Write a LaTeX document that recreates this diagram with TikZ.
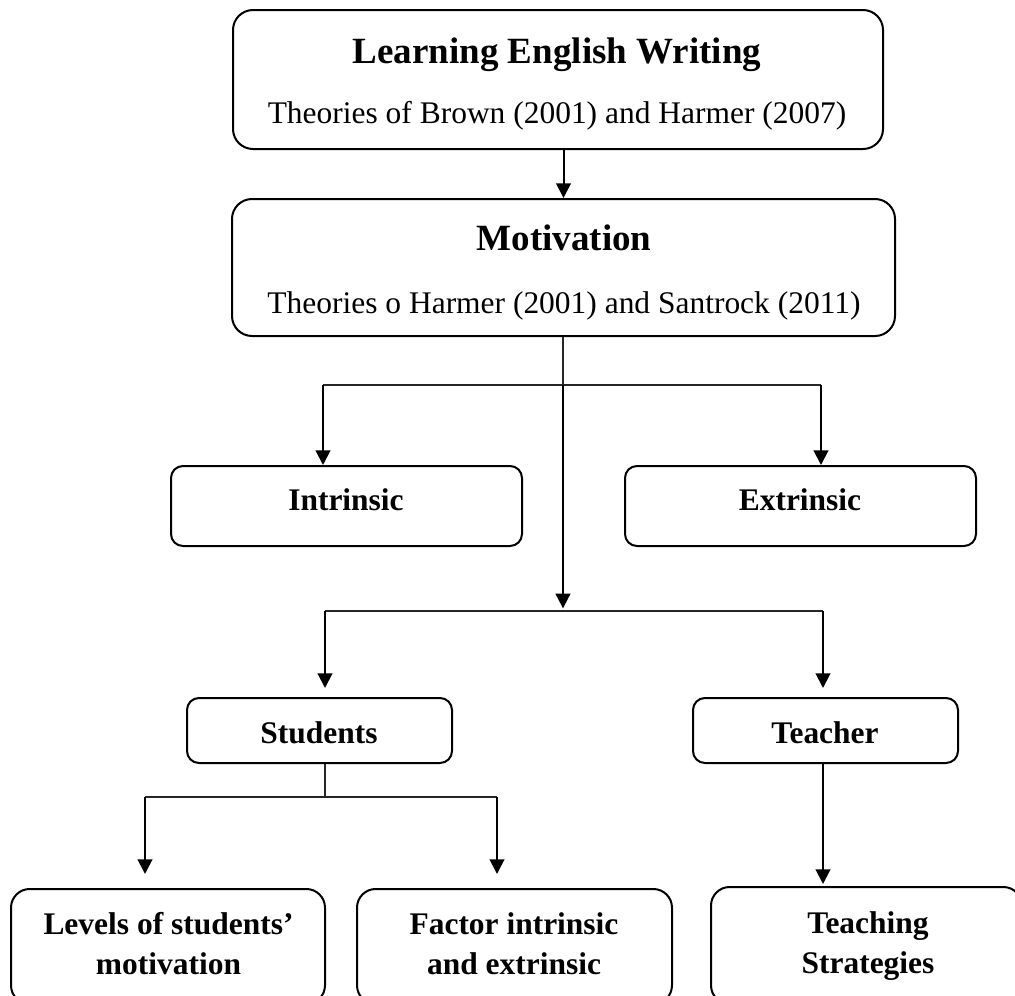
\documentclass[tikz,border=0pt]{standalone}
\usepackage{fontspec}
\setmainfont{Liberation Serif}
\usetikzlibrary{arrows.meta,calc,fit}
\begin{document}
\begin{tikzpicture}[x=0.75pt,y=-0.75pt,
  box/.style={draw, line width=1.5pt, rounded corners=#1, inner sep=0pt},
  box/.default=10pt,
  ttl/.style={anchor=base, inner sep=0pt, font=\fontsize{27.75}{33}\selectfont\bfseries},
  sub/.style={anchor=base, inner sep=0pt, font=\fontsize{23.6}{28}\selectfont},
  lbl/.style={anchor=base, inner sep=0pt, font=\fontsize{23.6}{28}\selectfont\bfseries},
  arr/.style={line width=1.5pt, -{Triangle[width=11pt,length=11pt]}},
  thinl/.style={line width=0.8pt, black!85}]
\path[use as bounding box] (0,0) rectangle (1015,996);
\clip (0,0) rectangle (1015,996);

% boxes
\node[box=15pt, fit={(233,10) (883,149)}] (box1) {};
\node[box=15pt, fit={(232,199) (895,336)}] (box2) {};
\node[box=9pt, fit={(171,466) (522,546)}] (intr) {};
\node[box=9pt, fit={(625,466) (976,546)}] (extr) {};
\node[box=9pt, fit={(187,698) (452,763)}] (stud) {};
\node[box=9pt, fit={(693,698) (958,763)}] (teach) {};
\node[box=14pt, fit={(11,889) (325,1004)}] (lev) {};
\node[box=14pt, fit={(357,889) (672,1004)}] (fact) {};
\node[box=14pt, fit={(711,887) (1022,1004)}] (strat) {};

% texts
\node[ttl] (t1a) at (557,63) {Learning English Writing};
\node[sub] (t1b) at (557,123) {Theories of Brown (2001) and Harmer (2007)};
\node[ttl] (t2a) at (564,250) {Motivation};
\node[sub] (t2b) at (564,313) {Theories o Harmer (2001) and Santrock (2011)};
\node[lbl] (tintr) at (346,510) {Intrinsic};
\node[lbl] (textr) at (800,510) {Extrinsic};
\node[lbl] (tstud) at (319,743) {Students};
\node[lbl] (tteach) at (825,743) {Teacher};
\node[lbl] (tlev1) at (168.5,934) {Levels of students’};
\node[lbl] (tlev2) at (168.5,974) {motivation};
\node[lbl] (tfact1) at (514,934) {Factor intrinsic};
\node[lbl] (tfact2) at (514,974) {and extrinsic};
\node[lbl] (tstrat1) at (868,933) {Teaching};
\node[lbl] (tstrat2) at (868,973) {Strategies};

% junction points
\coordinate (s1) at (563,385);
\coordinate (s1l) at (323,385);
\coordinate (s1r) at (821,385);
\coordinate (s2) at (563,611);
\coordinate (s2l) at (325,611);
\coordinate (s2r) at (823,611);
\coordinate (s3) at (325,797);
\coordinate (s3l) at (145,797);
\coordinate (s3r) at (497,797);

% connectors
\draw[arr] (box2.north |- box1.south) -- (box2.north);
\draw[thinl] (box2.south -| s1) -- (s1);
\draw[thinl] (s1l) -- (s1r);
\draw[arr] (s1l) -- (s1l |- intr.north);
\draw[arr] (s1r) -- (s1r |- extr.north);
\draw[arr, shorten >=2pt] (s1) -- (s2);
\draw[thinl] (s2l) -- (s2r);
\draw[arr, shorten >=6.75pt] (s2l) -- (s2l |- stud.north);
\draw[arr, shorten >=6.75pt] (s2r) -- (s2r |- teach.north);
\draw[thinl] (stud.south -| s3) -- (s3);
\draw[thinl] (s3l) -- (s3r);
\draw[arr, shorten >=10.5pt] (s3l) -- (s3l |- lev.north);
\draw[arr, shorten >=10.5pt] (s3r) -- (s3r |- fact.north);
\draw[arr, shorten >=1.5pt] (teach.south -| s2r) -- (s2r |- strat.north);
\end{tikzpicture}
\end{document}
